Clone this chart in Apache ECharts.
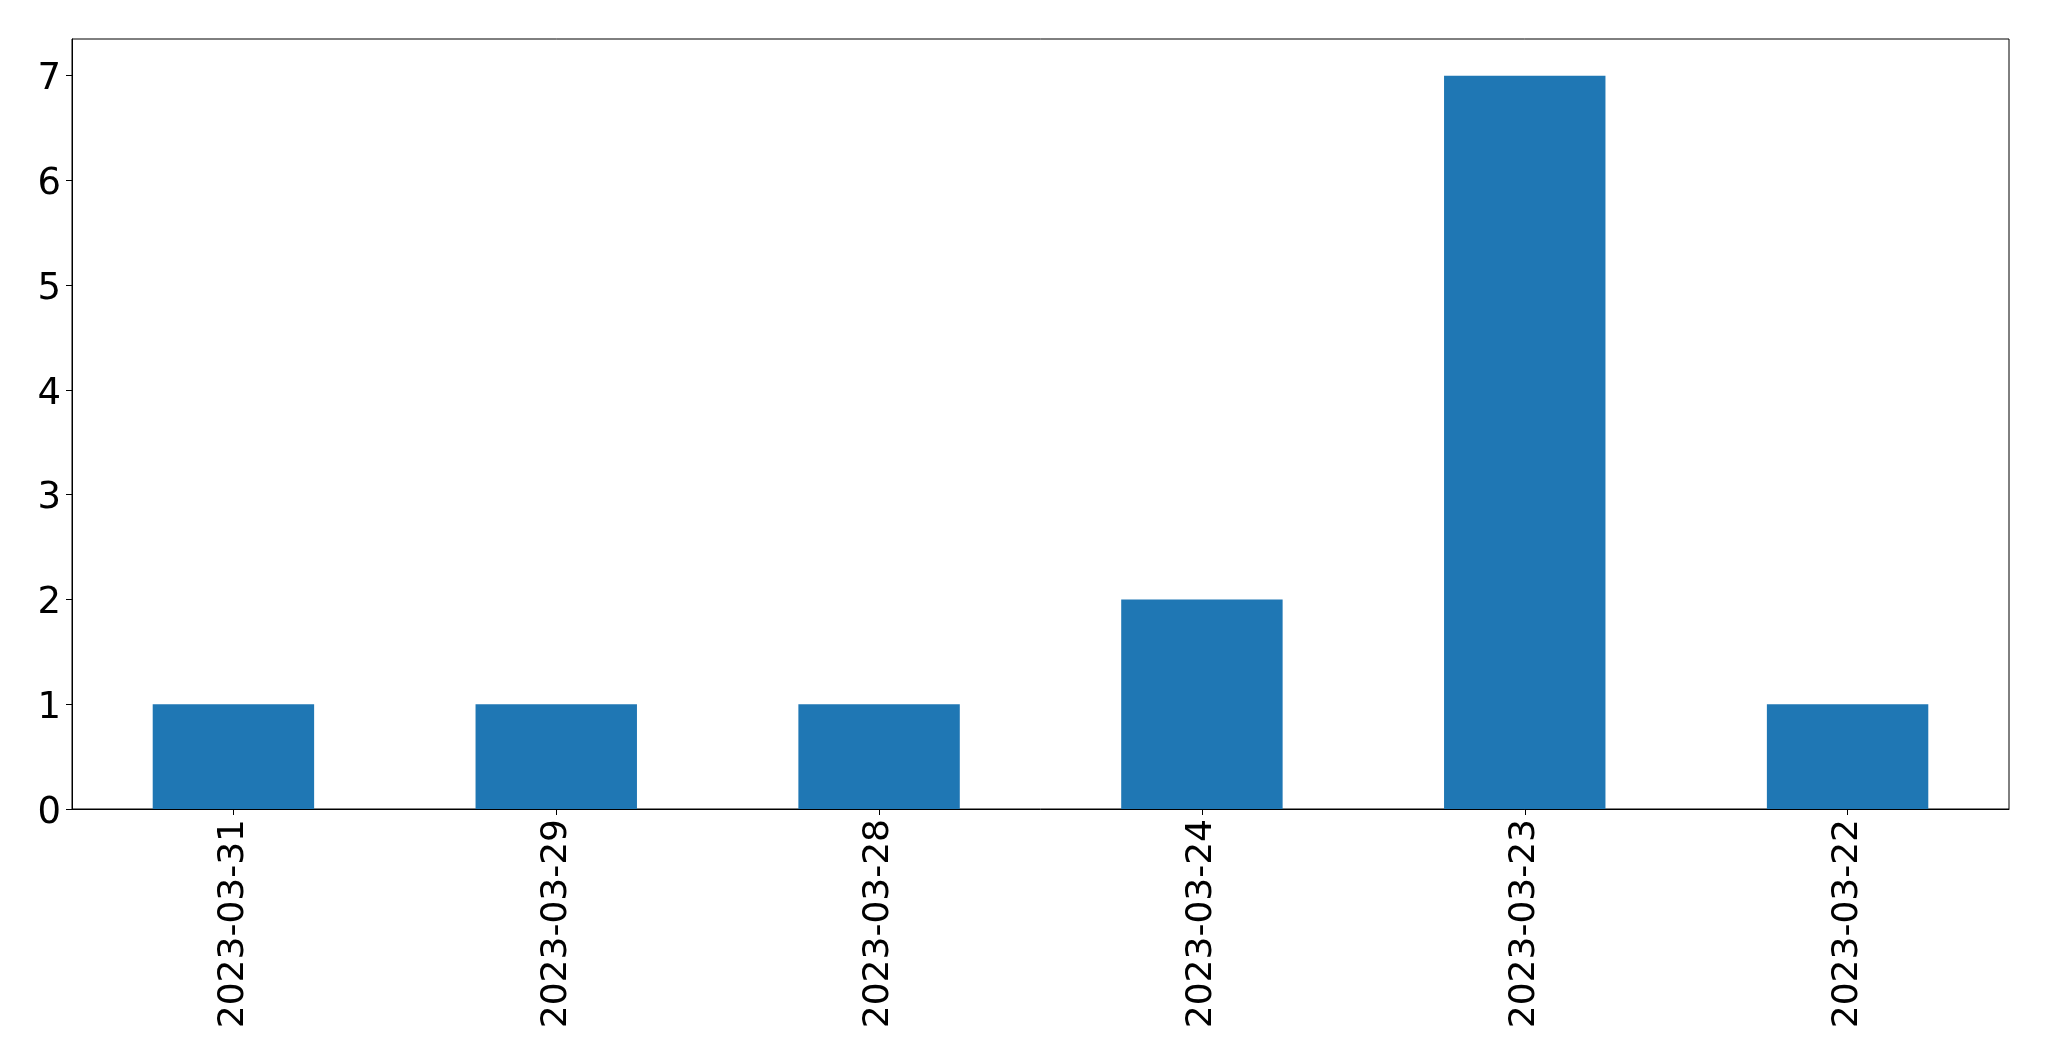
<!DOCTYPE html>
<html>
<head>
<meta charset="utf-8">
<script src="https://cdn.jsdelivr.net/npm/echarts@6/dist/echarts.min.js"></script>
<style>
html,body{margin:0;padding:0;background:#fff;}
#chart{width:2049px;height:1061px;}
</style>
</head>
<body>
<div id="chart"></div>
<script>
const categories = ['2023-03-31', '2023-03-29', '2023-03-28', '2023-03-24', '2023-03-23', '2023-03-22'];
const counts = [1, 1, 1, 2, 7, 1];
const yTicks = [0, 1, 2, 3, 4, 5, 6, 7];

const chart = echarts.init(document.getElementById('chart'), null, {renderer: 'canvas'});
const font = 'DejaVu Sans';
chart.setOption({
  animation: false,
  backgroundColor: '#ffffff',
  grid: {left: 72, top: 39, right: 40, bottom: 252, show: true, borderColor: '#000', borderWidth: 1, backgroundColor: 'transparent'},
  xAxis: {
    type: 'category',
    data: categories,
    boundaryGap: true,
    axisLine: {show: true, lineStyle: {color: '#000', width: 1}},
    axisTick: {show: true, alignWithLabel: true, length: 6, lineStyle: {color: '#000', width: 1}},
    axisLabel: {rotate: 90, fontSize: 36, fontFamily: font, color: '#000', margin: 10, interval: 0},
    splitLine: {show: false}
  },
  yAxis: {
    type: 'value',
    min: 0,
    max: 7.35,
    interval: 1,
    axisLine: {show: true, lineStyle: {color: '#000', width: 1}},
    axisTick: {show: true, length: 6, lineStyle: {color: '#000', width: 1}, customValues: yTicks},
    axisLabel: {
      fontSize: 37, fontFamily: font, color: '#000', margin: 11, customValues: yTicks,
      formatter: function (v) { return '{n|' + v + '}'; },
      rich: {n: {fontSize: 37, fontFamily: font, color: '#000', padding: [8, 0, 0, 0]}}
    },
    splitLine: {show: false}
  },
  series: [{
    type: 'bar',
    data: counts,
    barWidth: '50%',
    itemStyle: {color: '#1f77b4'}
  }]
});
</script>
</body>
</html>
